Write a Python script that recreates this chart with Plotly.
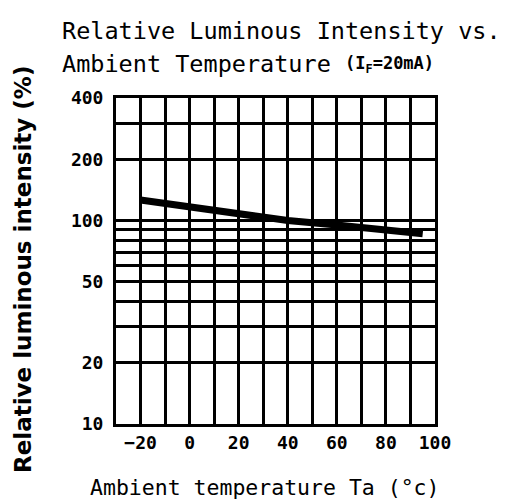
import plotly.graph_objects as go

# Data
temperature = [-20, 0, 20, 40, 60, 80, 95]
intensity = [126, 117, 108, 100, 95, 90, 86]

x_tick_vals = [-20, 0, 20, 40, 60, 80, 100]
x_grid_vals = [-30, -20, -10, 0, 10, 20, 30, 40, 50, 60, 70, 80, 90, 100]
y_tick_vals = [10, 20, 50, 100, 200, 400]
y_tick_text = ["10", "20", "50", "100", "200", "400"]
y_grid_vals = [10, 20, 30, 40, 50, 60, 70, 80, 90, 100, 200, 300, 400]

title_line1 = "Relative Luminous Intensity vs."
title_line2 = "Ambient Temperature"
title_cond = "(I<sub>F</sub>=20mA)"
x_title = "Ambient temperature Ta (°c)"
y_title = "Relative luminous intensity (%)"

MONO = "DejaVu Sans Mono, Liberation Mono, monospace"

fig = go.Figure()
fig.add_trace(go.Scatter(
    x=temperature, y=intensity, mode="lines",
    line=dict(color="black", width=7), showlegend=False, hoverinfo="skip"))

fig.update_layout(
    width=510, height=504,
    margin=dict(l=108, r=83, t=90, b=88),
    paper_bgcolor="white", plot_bgcolor="white",
    showlegend=False,
)

fig.update_xaxes(
    range=[-30, 100],
    tickmode="array", tickvals=x_tick_vals,
    ticks="", showgrid=True, gridcolor="black", gridwidth=3,
    minor=dict(tickmode="array", tickvals=x_grid_vals, showgrid=True,
               gridcolor="black", gridwidth=3, ticks=""),
    showline=True, linecolor="black", linewidth=3, mirror=True,
    zeroline=False,
    tickfont=dict(family=MONO, size=18, color="black", weight="bold"),
    ticklabelstandoff=0,
)
fig.update_yaxes(
    type="log", range=[1, 2.60206],
    tickmode="array", tickvals=y_tick_vals, ticktext=y_tick_text,
    ticks="", showgrid=True, gridcolor="black", gridwidth=3,
    minor=dict(tickmode="array", tickvals=y_grid_vals, showgrid=True,
               gridcolor="black", gridwidth=3, ticks=""),
    showline=True, linecolor="black", linewidth=3, mirror=True,
    zeroline=False,
    tickfont=dict(family=MONO, size=18, color="black", weight="bold"),
    ticklabelstandoff=6,
)

annotations = [
    dict(text=title_line1, x=52, y=39, font=dict(family=MONO, size=23.5, color="black")),
    dict(text=title_line2, x=52, y=72, font=dict(family=MONO, size=23.5, color="black")),
    dict(text=title_cond, x=335, y=70, font=dict(family=MONO, size=17, color="black", weight="bold")),
    dict(text=x_title, x=80, y=494, font=dict(family=MONO, size=21.5, color="black")),
]
for a in annotations:
    fig.add_annotation(
        text=a["text"], xref="paper", yref="paper",
        x=(a["x"] - 108) / (510 - 108 - 83), y=1 - (a["y"] - 90) / (504 - 90 - 88),
        xanchor="left", yanchor="bottom", showarrow=False, font=a["font"])

fig.add_annotation(
    text=y_title, xref="paper", yref="paper",
    x=(15 - 108) / (510 - 108 - 83), y=1 - (262 - 90) / (504 - 90 - 88),
    xanchor="center", yanchor="middle", textangle=-90, showarrow=False,
    font=dict(family="DejaVu Sans, Verdana, sans-serif", size=23, color="black", weight="bold"))

fig.write_html("out.html")
